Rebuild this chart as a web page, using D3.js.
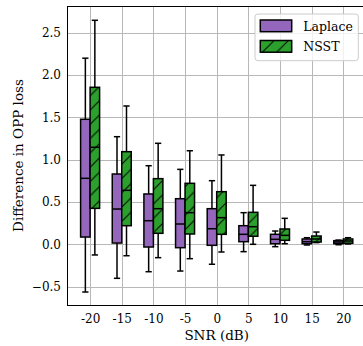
<!DOCTYPE html>
<html>
<head>
<meta charset="UTF-8">
<title>OPP loss boxplot</title>
<script src="https://cdn.jsdelivr.net/npm/d3@7"></script>
<style>
body { margin: 0; background: #fff; }
text { font-family: "DejaVu Serif", serif; fill: #000; }
.tick text { font-size: 12px; }
.grid line { stroke: #b8b8b8; stroke-width: 1px; shape-rendering: crispEdges; }
.grid path { stroke-width: 0; }
.axis path { stroke-width: 0; }
.spine { stroke: #000; stroke-width: 1px; shape-rendering: crispEdges; }
.label { font-size: 13.5px; }
.legendtext { font-size: 12.5px; }
</style>
</head>
<body>
<div id="chart"></div>
<script>
// data
var snrLabels = ["-20", "-15", "-10", "-5", "0", "5", "10", "15", "20"];
var yTicks = [-0.5, 0, 0.5, 1, 1.5, 2, 2.5];

var laplaceLow  = [-0.564, -0.402, -0.324, -0.316, -0.236, -0.087, -0.028, -0.008, -0.005];
var laplaceQ1   = [ 0.086,  0.015, -0.032, -0.040, -0.012,  0.031,  0.007,  0.007,  0.007];
var laplaceMed  = [ 0.780,  0.417,  0.279,  0.240,  0.184,  0.118,  0.059,  0.031,  0.027];
var laplaceQ3   = [ 1.478,  0.831,  0.595,  0.539,  0.421,  0.220,  0.118,  0.063,  0.043];
var laplaceHigh = [ 2.200,  1.272,  0.929,  0.886,  0.752,  0.374,  0.157,  0.078,  0.050];

var nsstLow  = [-0.126, -0.135, -0.158, -0.170, -0.091, 0.000, 0.007, 0.020, 0.004];
var nsstQ1   = [ 0.425,  0.220,  0.130,  0.122,  0.118, 0.095, 0.047, 0.027, 0.012];
var nsstMed  = [ 1.147,  0.638,  0.421,  0.374,  0.315, 0.208, 0.106, 0.063, 0.039];
var nsstQ3   = [ 1.856,  1.095,  0.776,  0.721,  0.622, 0.378, 0.181, 0.098, 0.063];
var nsstHigh = [ 2.648,  1.635,  1.194,  1.106,  1.056, 0.697, 0.307, 0.145, 0.078];

var series = [
  {name: "Laplace", color: "#9467bd", hatch: false, offset: -0.15,
   low: laplaceLow, q1: laplaceQ1, med: laplaceMed, q3: laplaceQ3, high: laplaceHigh},
  {name: "NSST", color: "#2ca02c", hatch: true, offset: 0.15,
   low: nsstLow, q1: nsstQ1, med: nsstMed, q3: nsstQ3, high: nsstHigh}
];

// layout
var width = 363, height = 346;
var padL = 67, padR = 366.4, padT = 6, padB = 305;
var boxW = 0.3;

var x = d3.scaleLinear().domain([-0.73, 8.73]).range([padL, padR]);
var y = d3.scaleLinear().domain([-0.7175, 2.817]).range([padB, padT]);

var svg = d3.select("#chart").append("svg")
  .attr("width", width)
  .attr("height", height);

// hatch pattern
svg.append("defs").append("pattern")
  .attr("id", "hatch")
  .attr("patternUnits", "userSpaceOnUse")
  .attr("width", 14.3)
  .attr("height", 14.3)
  .append("path")
  .attr("d", "M-3.6,3.6 l7.2,-7.2 M0,14.3 l14.3,-14.3 M10.7,17.9 l7.2,-7.2")
  .attr("stroke", "#000")
  .attr("stroke-width", 1);

// grid
svg.append("g")
  .attr("class", "grid")
  .attr("transform", "translate(0," + padB + ")")
  .call(d3.axisBottom(x).tickValues(d3.range(snrLabels.length)).tickSize(padT - padB).tickFormat(""));

svg.append("g")
  .attr("class", "grid")
  .attr("transform", "translate(" + padL + ",0)")
  .call(d3.axisLeft(y).tickValues(yTicks).tickSize(padL - padR).tickFormat(""));

// boxes
series.forEach(function (s) {
  var g = svg.append("g");
  var idx = d3.range(snrLabels.length);
  var cx = function (i) { return x(i + s.offset); };
  var half = (x(boxW) - x(0)) / 2;

  // whiskers
  g.selectAll("line.wlo").data(idx).enter().append("line")
    .attr("x1", cx).attr("x2", cx)
    .attr("y1", function (i) { return y(s.q1[i]); })
    .attr("y2", function (i) { return y(s.low[i]); })
    .attr("stroke", "#000").attr("stroke-width", 1.5);
  g.selectAll("line.whi").data(idx).enter().append("line")
    .attr("x1", cx).attr("x2", cx)
    .attr("y1", function (i) { return y(s.q3[i]); })
    .attr("y2", function (i) { return y(s.high[i]); })
    .attr("stroke", "#000").attr("stroke-width", 1.5);

  // caps
  [s.low, s.high].forEach(function (arr) {
    g.selectAll(null).data(idx).enter().append("line")
      .attr("x1", function (i) { return cx(i) - half / 2; })
      .attr("x2", function (i) { return cx(i) + half / 2; })
      .attr("y1", function (i) { return y(arr[i]); })
      .attr("y2", function (i) { return y(arr[i]); })
      .attr("stroke", "#000").attr("stroke-width", 1.5)
      .attr("stroke-linecap", "square");
  });

  // box body
  g.selectAll("rect.box").data(idx).enter().append("rect")
    .attr("x", function (i) { return cx(i) - half; })
    .attr("y", function (i) { return y(s.q3[i]); })
    .attr("width", half * 2)
    .attr("height", function (i) { return y(s.q1[i]) - y(s.q3[i]); })
    .attr("fill", s.color);
  if (s.hatch) {
    g.selectAll("rect.hatch").data(idx).enter().append("rect")
      .attr("x", function (i) { return cx(i) - half; })
      .attr("y", function (i) { return y(s.q3[i]); })
      .attr("width", half * 2)
      .attr("height", function (i) { return y(s.q1[i]) - y(s.q3[i]); })
      .attr("fill", "url(#hatch)");
  }
  g.selectAll("rect.edge").data(idx).enter().append("rect")
    .attr("x", function (i) { return cx(i) - half; })
    .attr("y", function (i) { return y(s.q3[i]); })
    .attr("width", half * 2)
    .attr("height", function (i) { return y(s.q1[i]) - y(s.q3[i]); })
    .attr("fill", "none")
    .attr("stroke", "#000").attr("stroke-width", 1.5);

  // medians
  g.selectAll("line.med").data(idx).enter().append("line")
    .attr("x1", function (i) { return cx(i) - half; })
    .attr("x2", function (i) { return cx(i) + half; })
    .attr("y1", function (i) { return y(s.med[i]); })
    .attr("y2", function (i) { return y(s.med[i]); })
    .attr("stroke", "#000").attr("stroke-width", 1.5);
});

// axes (labels only)
svg.append("g")
  .attr("class", "axis")
  .attr("transform", "translate(0," + padB + ")")
  .call(d3.axisBottom(x).tickValues(d3.range(snrLabels.length)).tickSize(0).tickPadding(9.5)
    .tickFormat(function (i) { return snrLabels[i]; }));

svg.append("g")
  .attr("class", "axis")
  .attr("transform", "translate(" + padL + ",0)")
  .call(d3.axisLeft(y).tickValues(yTicks).tickSize(0).tickPadding(6)
    .tickFormat(function (d) { return d3.format(".1f")(d).replace("-", "\u2212"); }));
svg.selectAll(".axis .tick text").attr("font-family", null).attr("font-size", null);
svg.selectAll(".axis").attr("font-family", null).attr("font-size", null);

// spines
svg.append("line").attr("class", "spine").attr("x1", padL).attr("x2", padL).attr("y1", padT).attr("y2", padB);
svg.append("line").attr("class", "spine").attr("x1", padL).attr("x2", padR).attr("y1", padT).attr("y2", padT);
svg.append("line").attr("class", "spine").attr("x1", padL).attr("x2", padR).attr("y1", padB).attr("y2", padB);
svg.append("line").attr("class", "spine").attr("x1", padR).attr("x2", padR).attr("y1", padT).attr("y2", padB);

// axis titles
svg.append("text")
  .attr("class", "label")
  .attr("x", (padL + padR) / 2)
  .attr("y", 340)
  .attr("text-anchor", "middle")
  .text("SNR (dB)");

svg.append("text")
  .attr("class", "label")
  .attr("transform", "translate(22.7," + (padT + padB) / 2 + ") rotate(-90)")
  .attr("text-anchor", "middle")
  .text("Difference in OPP loss");

// legend
var legend = svg.append("g");
legend.append("rect")
  .attr("x", 255).attr("y", 14)
  .attr("width", 103.3).attr("height", 46.7)
  .attr("rx", 3)
  .attr("fill", "rgba(255,255,255,0.8)")
  .attr("stroke", "#cccccc").attr("stroke-width", 1);

series.forEach(function (s, i) {
  var ly = 20 + i * 20.5;
  legend.append("rect")
    .attr("x", 260.3).attr("y", ly)
    .attr("width", 31.4).attr("height", 11.7)
    .attr("fill", s.color);
  if (s.hatch) {
    legend.append("rect")
      .attr("x", 260.3).attr("y", ly)
      .attr("width", 31.4).attr("height", 11.7)
      .attr("fill", "url(#hatch)");
  }
  legend.append("rect")
    .attr("x", 260.3).attr("y", ly)
    .attr("width", 31.4).attr("height", 11.7)
    .attr("fill", "none")
    .attr("stroke", "#000").attr("stroke-width", 1.5);
  legend.append("text")
    .attr("class", "legendtext")
    .attr("x", 303.3)
    .attr("y", ly + 10.5)
    .text(s.name);
});
</script>
</body>
</html>
